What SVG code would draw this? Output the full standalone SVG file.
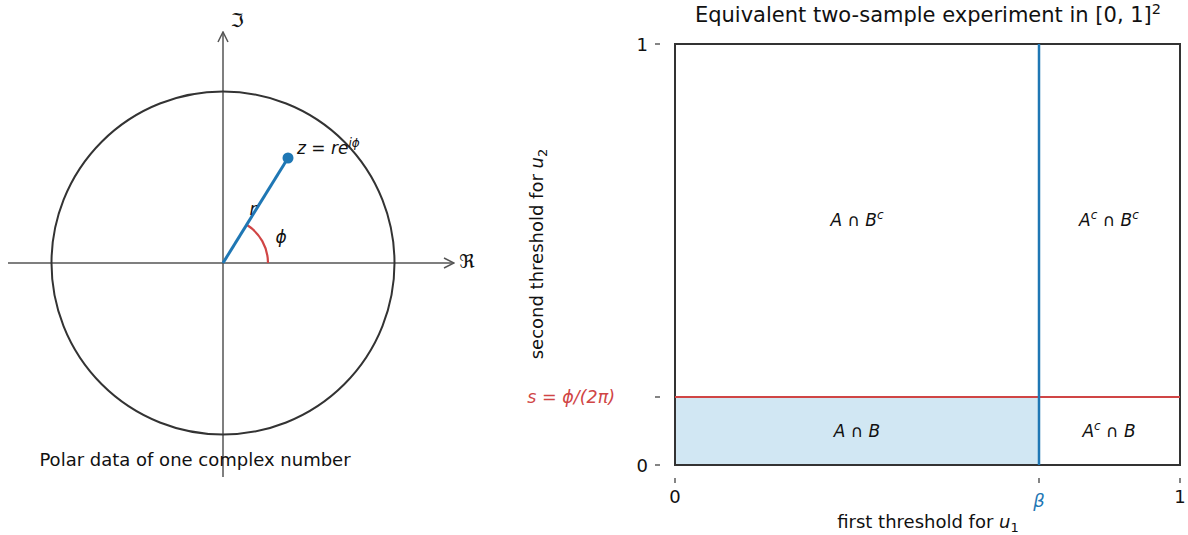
<svg xmlns="http://www.w3.org/2000/svg" width="1188" height="535" viewBox="0 0 1188 535">
<style>
text{font-family:"DejaVu Sans",sans-serif;fill:#111}
.it{font-style:italic}
.ax{stroke:#555;stroke-width:1.5;fill:none}
.tk{stroke:#333;stroke-width:1.2}
.lbl{font-size:18px}
.reg{font-size:17px;font-style:italic;text-anchor:middle}
</style>
<defs>
<marker id="arr" viewBox="0 0 12 12" refX="11" refY="6" markerWidth="12" markerHeight="12" markerUnits="userSpaceOnUse" orient="auto">
<path d="M1,1 L11,6 L1,11" fill="none" stroke="#555" stroke-width="1.5"/>
</marker>
</defs>
<g id="connectors">
<line class="ax" x1="8" y1="263" x2="454" y2="263" marker-end="url(#arr)"/>
<line class="ax" x1="223" y1="477" x2="223" y2="32" marker-end="url(#arr)"/>
</g>
<g id="circle"><circle cx="223" cy="263" r="171.5" fill="none" stroke="#333" stroke-width="2"/></g>
<g id="radius">
<path d="M268,263 A45,45 0 0 0 246.7,224.8" fill="none" stroke="#d04545" stroke-width="2.2"/>
<line x1="223" y1="263" x2="288" y2="158" stroke="#1f77b4" stroke-width="3"/>
<circle cx="288" cy="158" r="5.5" fill="#1f77b4"/>
</g>
<g id="left-labels">
<text x="237" y="27" font-size="19" text-anchor="middle" font-family="DejaVu Serif">ℑ</text>
<text x="467" y="268" font-size="19" text-anchor="middle" font-family="DejaVu Serif">ℜ</text>
<text class="it" x="297" y="154" font-size="17">z = re<tspan font-size="12" dy="-7">iϕ</tspan></text>
<text class="it" x="253" y="215" font-size="17" text-anchor="middle">r</text>
<text class="it" x="281" y="243" font-size="17" text-anchor="middle">ϕ</text>
<text x="195" y="466" font-size="18" text-anchor="middle">Polar data of one complex number</text>
</g>
<g id="square">
<rect x="675" y="397" width="364" height="68" fill="#d1e7f3"/>
<rect x="675" y="44" width="505" height="421" fill="none" stroke="#333" stroke-width="2"/>
<line x1="675" y1="397" x2="1180" y2="397" stroke="#d04545" stroke-width="2.2"/>
<line x1="1039" y1="44" x2="1039" y2="465" stroke="#1f77b4" stroke-width="2.5"/>
</g>
<g id="ticks">
<line class="tk" x1="655" y1="44" x2="660" y2="44"/>
<line class="tk" x1="655" y1="397" x2="660" y2="397"/>
<line class="tk" x1="655" y1="465" x2="660" y2="465"/>
<line class="tk" x1="675" y1="478" x2="675" y2="483"/>
<line class="tk" x1="1039" y1="478" x2="1039" y2="483"/>
<line class="tk" x1="1180" y1="478" x2="1180" y2="483"/>
<text class="lbl" x="648" y="51" text-anchor="end">1</text>
<text class="lbl" x="648" y="472" text-anchor="end">0</text>
<text class="lbl" x="675" y="503" text-anchor="middle">0</text>
<text class="lbl it" x="1039" y="507" text-anchor="middle" style="fill:#1f77b4">β</text>
<text class="lbl" x="1180" y="503" text-anchor="middle">1</text>
<text class="lbl it" x="615" y="403" font-size="17.5" text-anchor="end" style="fill:#d04545;font-size:17.5px">s = ϕ/(2π)</text>
</g>
<g id="titles">
<text x="928" y="22" font-size="21" text-anchor="middle">Equivalent two-sample experiment in [0, 1]<tspan font-size="14.5" dy="-8">2</tspan></text>
<text x="928" y="528" font-size="18" text-anchor="middle">first threshold for <tspan class="it">u</tspan><tspan font-size="13" dy="4">1</tspan></text>
<text transform="translate(543,254) rotate(-90)" font-size="18" text-anchor="middle">second threshold for <tspan class="it">u</tspan><tspan font-size="13" dy="4">2</tspan></text>
</g>
<g id="regions">
<text class="reg" x="857" y="226">A ∩ B<tspan font-size="12" dy="-7">c</tspan></text>
<text class="reg" x="1109" y="226">A<tspan font-size="12" dy="-7">c</tspan><tspan dy="7"> ∩ B</tspan><tspan font-size="12" dy="-7">c</tspan></text>
<text class="reg" x="857" y="437">A ∩ B</text>
<text class="reg" x="1109" y="437">A<tspan font-size="12" dy="-7">c</tspan><tspan dy="7"> ∩ B</tspan></text>
</g>
</svg>
